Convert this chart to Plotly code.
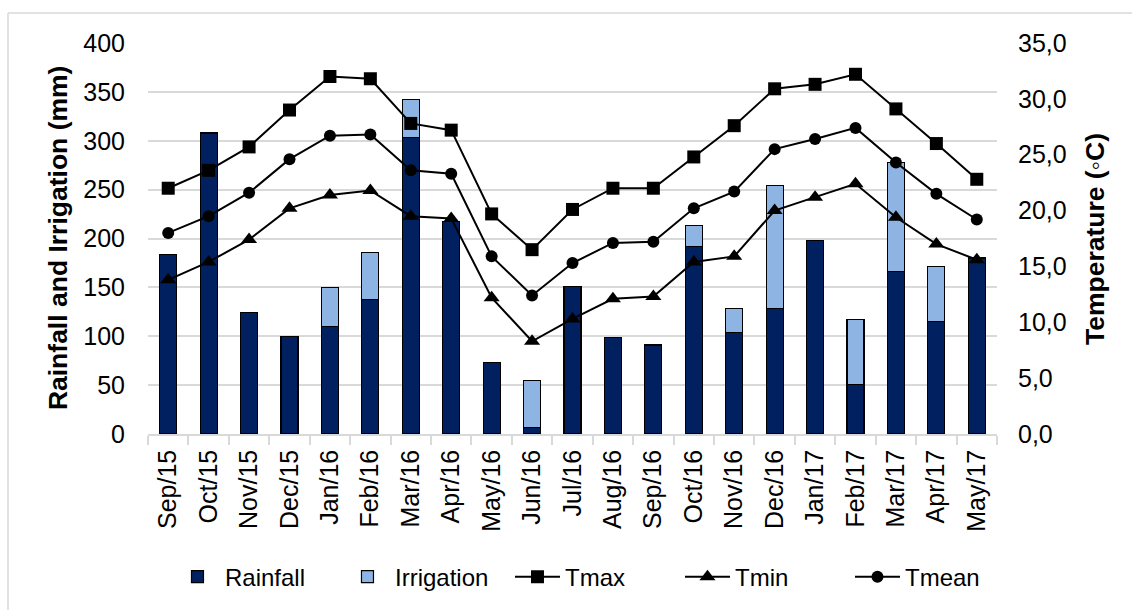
import plotly.graph_objects as go

months = ["Sep/15", "Oct/15", "Nov/15", "Dec/15", "Jan/16", "Feb/16", "Mar/16",
          "Apr/16", "May/16", "Jun/16", "Jul/16", "Aug/16", "Sep/16", "Oct/16",
          "Nov/16", "Dec/16", "Jan/17", "Feb/17", "Mar/17", "Apr/17", "May/17"]

rainfall = [184, 308, 124, 100, 110, 138, 303, 217, 73, 7, 151, 99, 91, 192,
            104, 128, 198, 51, 166, 115, 180]
irrigation = [0, 0, 0, 0, 40, 48, 39, 0, 0, 48, 0, 0, 0, 21,
              24, 126, 0, 66, 112, 56, 0]

tmax = [22.0, 23.6, 25.7, 29.0, 32.0, 31.8, 27.8, 27.2, 19.7, 16.5, 20.1, 22.0,
        22.0, 24.8, 27.6, 30.9, 31.3, 32.2, 29.1, 26.0, 22.8]
tmin = [13.8, 15.4, 17.4, 20.2, 21.4, 21.8, 19.5, 19.3, 12.2, 8.3, 10.3, 12.1,
        12.3, 15.4, 15.9, 20.0, 21.2, 22.4, 19.4, 17.0, 15.6]
tmean = [18.0, 19.5, 21.6, 24.6, 26.7, 26.8, 23.6, 23.3, 15.9, 12.4, 15.3, 17.1,
         17.2, 20.2, 21.7, 25.5, 26.4, 27.4, 24.3, 21.5, 19.2]

left_ticks = [0, 50, 100, 150, 200, 250, 300, 350, 400]
right_ticks = [0, 5, 10, 15, 20, 25, 30, 35]

FONT = "Liberation Sans, Arial, sans-serif"
GRID = "#d9d9d9"

fig = go.Figure()

fig.add_trace(go.Bar(
    x=months, y=rainfall, name="Rainfall",
    marker=dict(color="#002060", line=dict(color="black", width=1.2)),
    yaxis="y",
))
fig.add_trace(go.Bar(
    x=months, y=irrigation, name="Irrigation",
    marker=dict(color="#8EB4E3", line=dict(color="black", width=1.2)),
    yaxis="y",
))

line_style = dict(color="black", width=2)
fig.add_trace(go.Scatter(
    x=months, y=tmax, name="Tmax", mode="lines+markers", yaxis="y2",
    line=line_style, marker=dict(symbol="square", size=13, color="black"),
))
fig.add_trace(go.Scatter(
    x=months, y=tmin, name="Tmin", mode="lines+markers", yaxis="y2",
    line=line_style, marker=dict(symbol="triangle-up", size=14, color="black"),
))
fig.add_trace(go.Scatter(
    x=months, y=tmean, name="Tmean", mode="lines+markers", yaxis="y2",
    line=line_style, marker=dict(symbol="circle", size=12, color="black"),
))

# outer frame of the chart area (top and left edges)
frame = dict(type="line", xref="paper", yref="paper",
             line=dict(color="#d9d9d9", width=1.5), layer="below")

fig.update_layout(
    width=1132, height=610,
    margin=dict(l=148, r=135, t=43, b=176, autoexpand=False),
    paper_bgcolor="white", plot_bgcolor="white",
    barmode="stack", bargap=0.58,
    separators=",.",
    font=dict(family=FONT, size=24, color="black"),
    xaxis=dict(
        type="category", range=[-0.5, len(months) - 0.5], tickangle=-90,
        showline=True, linecolor=GRID, linewidth=1.5,
        ticks="outside", tickson="boundaries", ticklen=9, tickcolor=GRID, tickwidth=1.5,
        showgrid=False, tickfont=dict(size=25), ticklabelstandoff=4,
    ),
    yaxis=dict(
        range=[0, 400], tickvals=left_ticks, showgrid=True, gridcolor=GRID, gridwidth=1.5,
        zeroline=False, showline=False, ticks="", tickfont=dict(size=25),
        ticklabelstandoff=22,
    ),
    yaxis2=dict(
        range=[0, 35], tickvals=right_ticks, tickformat=".1f", overlaying="y", side="right",
        showgrid=False, zeroline=False, showline=False, ticks="", tickfont=dict(size=25),
        ticklabelstandoff=20,
    ),
    legend=dict(
        orientation="h", xref="container", yref="container",
        x=0.5256, xanchor="center", y=0.054, yanchor="middle",
        font=dict(size=24), traceorder="normal", itemwidth=45,
        entrywidth=110, entrywidthmode="pixels",
    ),
    annotations=[
        dict(text="<b>Rainfall and Irrigation (mm)</b>", textangle=-90,
             xref="paper", yref="paper", x=-0.106, y=0.501,
             xanchor="center", yanchor="middle", showarrow=False,
             font=dict(size=26.5)),
        dict(text="<b>Temperature (◦C)</b>", textangle=-90,
             xref="paper", yref="paper", x=1.1154, y=0.4985,
             xanchor="center", yanchor="middle", showarrow=False,
             font=dict(size=26.5)),
    ],
    shapes=[
        dict(frame, x0=-0.1649, x1=1.2, y0=1.0767, y1=1.0767),
        dict(frame, x0=-0.1649, x1=-0.1649, y0=1.0767, y1=-0.5),
    ],
)

fig.write_html("out.html")
